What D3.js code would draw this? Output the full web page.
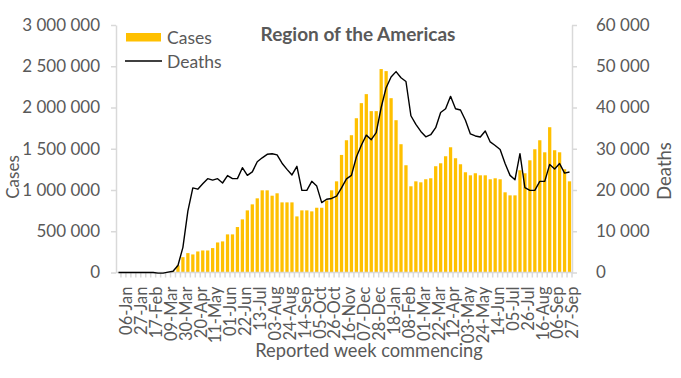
<!DOCTYPE html>
<html>
<head>
<meta charset="utf-8">
<script src="https://cdn.jsdelivr.net/npm/d3@7"></script>
<style>
  body { margin: 0; background: #fff; }
  svg { display: block; }
  text { font-family: Lato, sans-serif; fill: #595959; }
</style>
</head>
<body>
<div id="chart"></div>
<script>
// reported week commencing, 06-Jan-2020 .. 04-Oct-2021
const weeks = [
  '06-Jan', '13-Jan', '20-Jan', '27-Jan', '03-Feb', '10-Feb', '17-Feb', '24-Feb', '02-Mar', '09-Mar',
  '16-Mar', '23-Mar', '30-Mar', '06-Apr', '13-Apr', '20-Apr', '27-Apr', '04-May', '11-May', '18-May',
  '25-May', '01-Jun', '08-Jun', '15-Jun', '22-Jun', '29-Jun', '06-Jul', '13-Jul', '20-Jul', '27-Jul',
  '03-Aug', '10-Aug', '17-Aug', '24-Aug', '31-Aug', '07-Sep', '14-Sep', '21-Sep', '28-Sep', '05-Oct',
  '12-Oct', '19-Oct', '26-Oct', '02-Nov', '09-Nov', '16-Nov', '23-Nov', '30-Nov', '07-Dec', '14-Dec',
  '21-Dec', '28-Dec', '04-Jan', '11-Jan', '18-Jan', '25-Jan', '01-Feb', '08-Feb', '15-Feb', '22-Feb',
  '01-Mar', '08-Mar', '15-Mar', '22-Mar', '29-Mar', '05-Apr', '12-Apr', '19-Apr', '26-Apr', '03-May',
  '10-May', '17-May', '24-May', '31-May', '07-Jun', '14-Jun', '21-Jun', '28-Jun', '05-Jul', '12-Jul',
  '19-Jul', '26-Jul', '02-Aug', '09-Aug', '16-Aug', '23-Aug', '30-Aug', '06-Sep', '13-Sep', '20-Sep',
  '27-Sep', '04-Oct'
]

const cases = [
  0, 0, 0, 0, 0, 0, 0, 0, 0, 0,
  3000, 15000, 85000, 186000, 235000, 219000, 255000, 267000, 267000, 296000,
  364000, 377000, 462000, 462000, 551000, 644000, 753000, 826000, 899000, 996000,
  996000, 931000, 960000, 850000, 850000, 850000, 680000, 753000, 753000, 741000,
  785000, 785000, 874000, 996000, 1105000, 1425000, 1603000, 1664000, 1870000, 2053000,
  2162000, 1956000, 1956000, 2466000, 2441000, 2113000, 1846000, 1555000, 1300000, 1045000,
  1105000, 1093000, 1130000, 1142000, 1288000, 1324000, 1409000, 1518000, 1385000, 1312000,
  1215000, 1178000, 1203000, 1178000, 1178000, 1130000, 1142000, 1130000, 972000, 935000,
  935000, 1239000, 1203000, 1360000, 1494000, 1603000, 1457000, 1761000, 1482000, 1457000,
  1251000, 1105000
]

const deaths = [
  0, 0, 0, 0, 0, 0, 0, 0, -150, -150,
  100, 300, 1700, 6100, 14900, 20500, 20200, 21500, 22750, 22400,
  22750, 21700, 23500, 22750, 22750, 25400, 23560, 24400, 26850, 27800,
  28650, 28800, 28500, 26500, 25000, 23650, 25750, 19900, 19900, 22100,
  20950, 16950, 17750, 17950, 18500, 20500, 22700, 23550, 28000, 30850,
  33300, 32200, 33900, 40000, 44800, 47400, 48700, 47200, 46300, 38000,
  35900, 34200, 32900, 33400, 35100, 38800, 39700, 42700, 39700, 39400,
  36900, 33600, 33100, 32850, 34300, 31650, 30800, 29800, 26400, 23550,
  22500, 28800, 20550, 19900, 19900, 22100, 22100, 26200, 25100, 26400,
  24100, 24350
]

const casesTicks = [0, 500000, 1000000, 1500000, 2000000, 2500000, 3000000]
const deathsTicks = [0, 10000, 20000, 30000, 40000, 50000, 60000]

const width = 681
const height = 378
const margin = { top: 25, right: 109, bottom: 105.5, left: 116 }
const axisColor = '#d9d9d9'
const barColor = '#ffc000'

const svg = d3.select('#chart').append('svg').attr('width', width).attr('height', height)

const x = d3
  .scaleBand()
  .domain(d3.range(weeks.length))
  .range([margin.left, width - margin.right])
  .paddingInner(0.34)
  .paddingOuter(0.17)
const center = (i) => x(i) + x.bandwidth() / 2

const yCases = d3.scaleLinear().domain([0, 3000000]).range([height - margin.bottom, margin.top])
const yDeaths = d3.scaleLinear().domain([0, 60000]).range([height - margin.bottom, margin.top])

const fmt = (v) => d3.format(',')(v).replace(/,/g, ' ')

// bars
svg
  .append('g')
  .selectAll('rect')
  .data(cases)
  .join('rect')
  .attr('x', (d, i) => x(i))
  .attr('width', x.bandwidth())
  .attr('y', (d) => yCases(Math.max(0, d)))
  .attr('height', (d) => yCases(0) - yCases(Math.max(0, d)))
  .attr('fill', barColor)

// axes
const styleAxis = (g) => {
  g.select('.domain').attr('stroke', axisColor).attr('stroke-width', 1.5)
  g.selectAll('.tick line').attr('stroke', axisColor).attr('stroke-width', 1.5)
  g.selectAll('.tick text').attr('font-size', 17).attr('fill', '#595959').attr('font-family', 'Lato, sans-serif')
}

svg
  .append('g')
  .attr('transform', `translate(${margin.left},0)`)
  .call(d3.axisLeft(yCases).tickValues(casesTicks).tickFormat(fmt).tickSize(5).tickSizeOuter(0).tickPadding(11))
  .call(styleAxis)

svg
  .append('g')
  .attr('transform', `translate(${width - margin.right},0)`)
  .call(d3.axisRight(yDeaths).tickValues(deathsTicks).tickFormat(fmt).tickSize(5).tickSizeOuter(0).tickPadding(19))
  .call(styleAxis)

// category axis: boundary ticks for every week, labels every third week
const xg = svg.append('g').attr('transform', `translate(0,${height - margin.bottom})`)
xg.append('line')
  .attr('x1', margin.left)
  .attr('x2', width - margin.right)
  .attr('stroke', axisColor)
  .attr('stroke-width', 1.5)
xg.selectAll('line.wk')
  .data(d3.range(1, weeks.length + 1))
  .join('line')
  .attr('class', 'wk')
  .attr('x1', (i) => center(i - 1) + x.step() / 2)
  .attr('x2', (i) => center(i - 1) + x.step() / 2)
  .attr('y1', 0)
  .attr('y2', 5)
  .attr('stroke', axisColor)
  .attr('stroke-width', 1.5)
xg.selectAll('text')
  .data(d3.range(0, weeks.length, 3))
  .join('text')
  .attr('transform', (i) => `translate(${center(i) + 8},14) rotate(-90)`)
  .attr('dy', '0.35em')
  .attr('text-anchor', 'end')
  .attr('font-size', 16.5)
  .text((i) => weeks[i])

// deaths line
const line = d3
  .line()
  .x((d, i) => center(i))
  .y((d) => yDeaths(d))
svg
  .append('path')
  .datum(deaths)
  .attr('fill', 'none')
  .attr('stroke', '#000')
  .attr('stroke-width', 1.4)
  .attr('stroke-linejoin', 'round')
  .attr('d', line)

// titles
svg.append('text').attr('x', 358).attr('y', 41).attr('text-anchor', 'middle')
  .attr('font-size', 19).attr('font-weight', 'bold').text('Region of the Americas')

svg.append('text').attr('transform', 'translate(13.5,177) rotate(-90)').attr('dy', '0.35em')
  .attr('text-anchor', 'middle').attr('font-size', 17).text('Cases')

svg.append('text').attr('transform', 'translate(664.5,171) rotate(-90)').attr('dy', '0.35em')
  .attr('text-anchor', 'middle').attr('font-size', 18.5).text('Deaths')

svg.append('text').attr('x', 369).attr('y', 357).attr('text-anchor', 'middle')
  .attr('font-size', 18.3).text('Reported week commencing')

// legend
const legend = svg.append('g')
legend.append('rect').attr('x', 126).attr('y', 33).attr('width', 35).attr('height', 8.5).attr('fill', barColor)
legend.append('line').attr('x1', 125).attr('x2', 162).attr('y1', 61).attr('y2', 61)
  .attr('stroke', '#000').attr('stroke-width', 1.5)
legend.append('text').attr('x', 167).attr('y', 37.5).attr('dy', '0.35em').attr('font-size', 17.5).text('Cases')
legend.append('text').attr('x', 167).attr('y', 61.5).attr('dy', '0.35em').attr('font-size', 17.5).text('Deaths')
</script>
</body>
</html>
